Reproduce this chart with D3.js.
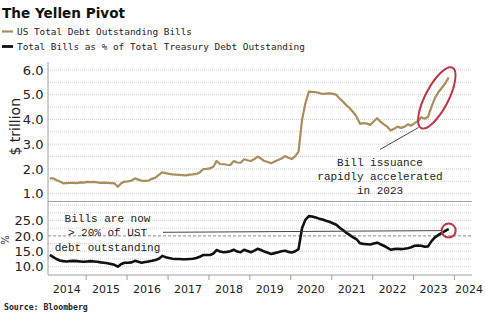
<!DOCTYPE html>
<html>
<head>
<meta charset="utf-8">
<script src="https://cdn.jsdelivr.net/npm/d3@7"></script>
<style>
body { margin: 0; background: #fff; }
svg { display: block; }
</style>
</head>
<body>
<svg id="yellen_chart" width="485" height="323"></svg>
<script>
// monthly observations, Feb 2014 .. Nov 2023
var first_month = "2014-02";
var last_month = "2023-11";

// US Total Debt Outstanding Bills, $ trillion
var bills_outstanding = [
    1.62, 1.62, 1.55, 1.49, 1.42, 1.43, 1.44, 1.44, 1.43, 1.46,
    1.45, 1.48, 1.47, 1.48, 1.46, 1.44, 1.45, 1.44, 1.43, 1.42,
    1.28, 1.42, 1.49, 1.50, 1.53, 1.62, 1.57, 1.53, 1.52, 1.53,
    1.60, 1.65, 1.76, 1.86, 1.83, 1.80, 1.78, 1.77, 1.76, 1.75,
    1.74, 1.77, 1.78, 1.80, 1.86, 1.99, 2.00, 2.02, 2.10, 2.32,
    2.20, 2.19, 2.17, 2.16, 2.32, 2.26, 2.25, 2.39, 2.35, 2.32,
    2.40, 2.50, 2.42, 2.32, 2.28, 2.23, 2.30, 2.36, 2.42, 2.52,
    2.45, 2.40, 2.52, 2.70, 3.98, 4.65, 5.12, 5.11, 5.10, 5.07,
    5.03, 5.04, 5.05, 5.03, 5.00, 4.85, 4.72, 4.58, 4.45, 4.30,
    4.11, 3.82, 3.85, 3.83, 3.78, 3.92, 4.05, 3.91, 3.80, 3.71,
    3.55, 3.62, 3.71, 3.66, 3.70, 3.80, 3.75, 3.85, 3.94, 4.09,
    4.03, 4.11, 4.52, 4.86, 5.10, 5.28, 5.45, 5.70
];

// Total Bills as % of Total Treasury Debt Outstanding
var bills_share = [
    13.8, 13.2, 12.5, 12.0, 11.8, 11.7, 11.8, 11.9, 11.8, 11.7,
    11.6, 11.7, 11.8, 11.7, 11.6, 11.4, 11.3, 11.1, 10.9, 10.6,
    10.0, 10.9, 11.3, 11.3, 11.4, 11.9, 11.6, 11.3, 11.5, 11.7,
    11.9, 12.2, 12.6, 13.5, 13.1, 12.8, 12.6, 12.5, 12.5, 12.4,
    12.4, 12.5, 12.6, 12.8, 13.2, 13.8, 13.8, 13.8, 14.3, 15.4,
    14.9, 14.7, 14.8, 15.0, 15.5, 14.9, 14.7, 15.5, 15.1, 14.7,
    15.2, 15.8, 15.4, 14.9, 14.5, 14.1, 14.4, 14.7, 15.0, 15.2,
    14.8, 14.6, 15.0, 15.7, 22.5, 25.2, 26.4, 26.3, 26.0, 25.6,
    25.3, 24.9, 24.6, 24.1, 23.6, 22.7, 21.9, 21.0, 20.3, 19.5,
    18.9, 17.6, 17.4, 17.3, 17.2, 17.5, 17.8, 17.3, 16.8, 16.2,
    15.5, 15.7, 15.8, 15.7, 15.8, 16.0, 16.3, 16.8, 16.9, 16.8,
    16.5, 16.6, 18.3, 19.5, 20.3, 21.0, 21.6, 22.2
];

var top_ticks = [1, 2, 3, 4, 5, 6];
var top_grid = [1, 1.5, 2, 2.5, 3, 3.5, 4, 4.5, 5, 5.5, 6];
var bottom_ticks = [10, 15, 20, 25];
var bottom_grid = [10, 12.5, 15, 17.5, 22.5, 25, 27.5, 30];
var share_reference = 20;
var year_labels = ["2014", "2015", "2016", "2017", "2018", "2019", "2020", "2021", "2022", "2023", "2024"];

var legend_labels = ["US Total Debt Outstanding Bills", "Total Bills as % of Total Treasury Debt Outstanding"];
var note_top = ["Bill issuance", "rapidly accelerated", "in 2023"];
var note_bottom = ["Bills are now", "> 20% of UST", "debt outstanding"];

var chart_svg
var xScale
var yScaleTop
var yScaleBottom

const TAN = "#a98d5c";
const RED = "#bd3445";
const GRID = "#d4d4d4";
const AXIS = "#a0a0a0";

function build_chart() {
    chart_svg = d3.select("#yellen_chart");

    const plot = {left: 48, right: 472, top: 62, split: 201.5, bottom: 275};

    var parseMonth = d3.timeParse("%Y-%m");
    var months = d3.timeMonth.range(parseMonth(first_month), d3.timeMonth.offset(parseMonth(last_month), 1))
        .map(d => d3.timeDay.offset(d, 14));

    xScale = d3.scaleTime()
        .domain([new Date(2014, 0, 30), new Date(2024, 5, 10)])
        .range([plot.left, plot.right]);
    yScaleTop = d3.scaleLinear()
        .domain([0.685, 6.32])
        .range([plot.split, plot.top]);
    yScaleBottom = d3.scaleLinear()
        .domain([7.3, 31])
        .range([plot.bottom, plot.split + 0.5]);

    // title + legend
    chart_svg.append("text")
        .attr("x", 2).attr("y", 18)
        .attr("textLength", 123).attr("lengthAdjust", "spacingAndGlyphs")
        .style("font", "bold 14px 'DejaVu Sans'")
        .attr("fill", "#111")
        .text("The Yellen Pivot");

    var legendColors = [TAN, "#111"];
    var legend = chart_svg.append("g").attr("id", "legend");
    legend.selectAll("line")
        .data(legend_labels).enter()
        .append("line")
        .attr("x1", 2).attr("x2", 13)
        .attr("y1", (d, i) => 31.5 + i * 15)
        .attr("y2", (d, i) => 31.5 + i * 15)
        .attr("stroke", (d, i) => legendColors[i])
        .attr("stroke-width", (d, i) => i == 0 ? 2.2 : 2.8);
    legend.selectAll("text")
        .data(legend_labels).enter()
        .append("text")
        .attr("x", 17)
        .attr("y", (d, i) => 34.5 + i * 15)
        .style("font", "9.4px 'DejaVu Sans Mono'")
        .attr("fill", "#222")
        .text(d => d);

    // grids
    var grid = chart_svg.append("g").attr("id", "grid");
    grid.selectAll("line.top_grid")
        .data(top_grid).enter()
        .append("line").classed("top_grid", true)
        .attr("x1", plot.left).attr("x2", plot.right)
        .attr("y1", d => yScaleTop(d)).attr("y2", d => yScaleTop(d))
        .attr("stroke", GRID).attr("stroke-dasharray", "1,1");
    grid.selectAll("line.bottom_grid")
        .data(bottom_grid).enter()
        .append("line").classed("bottom_grid", true)
        .attr("x1", plot.left).attr("x2", plot.right)
        .attr("y1", d => yScaleBottom(d)).attr("y2", d => yScaleBottom(d))
        .attr("stroke", GRID).attr("stroke-dasharray", "1,1");
    grid.append("line")
        .attr("x1", plot.left).attr("x2", plot.right)
        .attr("y1", yScaleBottom(share_reference)).attr("y2", yScaleBottom(share_reference))
        .attr("stroke", "#8c8c8c").attr("stroke-dasharray", "3,2");

    // frame lines
    var frame = chart_svg.append("g").attr("id", "frame").attr("stroke", AXIS);
    frame.append("line")
        .attr("x1", plot.left).attr("x2", plot.left)
        .attr("y1", plot.top).attr("y2", plot.bottom);
    frame.append("line")
        .attr("x1", plot.left).attr("x2", plot.right)
        .attr("y1", plot.split).attr("y2", plot.split);
    frame.append("line")
        .attr("x1", plot.left).attr("x2", plot.right)
        .attr("y1", plot.bottom).attr("y2", plot.bottom);

    // y axes
    var topAxis = chart_svg.append("g")
        .attr("transform", "translate(" + (plot.left - 4.5) + ",0)")
        .call(d3.axisLeft(yScaleTop).tickValues(top_ticks).tickSize(0).tickPadding(0).tickFormat(d3.format(".1f")));
    var bottomAxis = chart_svg.append("g")
        .attr("transform", "translate(" + (plot.left - 4.5) + ",0)")
        .call(d3.axisLeft(yScaleBottom).tickValues(bottom_ticks).tickSize(0).tickPadding(0).tickFormat(d3.format(".1f")));
    [topAxis, bottomAxis].forEach(function(axis) {
        axis.select(".domain").remove();
        axis.selectAll("text")
            .style("font", "13px 'DejaVu Sans'")
            .attr("fill", "#222");
    });

    chart_svg.append("text")
        .attr("transform", "translate(20," + ((plot.top + plot.split) / 2 - 5) + ") rotate(-90)")
        .attr("text-anchor", "middle")
        .style("font", "14px 'DejaVu Sans'")
        .attr("fill", "#222")
        .text("$ trillion");
    chart_svg.append("text")
        .attr("transform", "translate(9,240) rotate(-90)")
        .attr("text-anchor", "middle")
        .style("font", "10px 'DejaVu Sans'")
        .attr("fill", "#222")
        .text("%");

    // x axis: ticks at year boundaries, labels centred in each year
    var years = year_labels.map(y => new Date(+y, 0, 1));
    var xAxis = chart_svg.append("g")
        .attr("transform", "translate(0," + plot.bottom + ")")
        .call(d3.axisBottom(xScale).tickValues(years.filter(d => xScale(d) >= plot.left)).tickSize(5).tickFormat(""));
    xAxis.select(".domain").remove();
    xAxis.selectAll("line").attr("stroke", AXIS);

    chart_svg.append("g").attr("id", "year_labels")
        .selectAll("text")
        .data(years).enter()
        .append("text")
        .each(function(d, i) {
            var x0 = Math.max(xScale(d), plot.left);
            var x1 = Math.min(xScale(new Date(d.getFullYear() + 1, 0, 1)), plot.right);
            var label = d3.select(this);
            if (x1 - x0 < 30) {
                label.attr("x", x0 + 1).attr("text-anchor", "start");
            } else {
                label.attr("x", (x0 + x1) / 2).attr("text-anchor", "middle");
            }
        })
        .attr("y", 293)
        .style("font", "11px 'DejaVu Sans'")
        .attr("fill", "#222")
        .text((d, i) => year_labels[i]);

    // series
    var lineTop = d3.line()
        .x((d, i) => xScale(months[i]))
        .y(d => yScaleTop(d));
    var lineBottom = d3.line()
        .x((d, i) => xScale(months[i]))
        .y(d => yScaleBottom(d));

    chart_svg.append("path")
        .attr("d", lineTop(bills_outstanding))
        .attr("fill", "none")
        .attr("stroke", TAN)
        .attr("stroke-width", 2.2)
        .attr("stroke-linejoin", "round");
    chart_svg.append("path")
        .attr("d", lineBottom(bills_share))
        .attr("fill", "none")
        .attr("stroke", "#111")
        .attr("stroke-width", 2.6)
        .attr("stroke-linejoin", "round");

    // annotations
    var noteFont = "11px 'Liberation Mono'";

    var ellipseX = xScale(new Date(2023, 7, 1));
    var ellipseY = yScaleTop(4.87);
    chart_svg.append("ellipse")
        .attr("cx", 0).attr("cy", 0)
        .attr("rx", 34).attr("ry", 11.5)
        .attr("transform", "translate(" + ellipseX + "," + ellipseY + ") rotate(-62.5)")
        .attr("fill", "none")
        .attr("stroke", RED)
        .attr("stroke-width", 2);
    chart_svg.append("line")
        .attr("x1", 380).attr("y1", 149.5)
        .attr("x2", 418.5).attr("y2", 127.5)
        .attr("stroke", "#333").attr("stroke-width", 0.9);
    chart_svg.append("g")
        .selectAll("text")
        .data(note_top).enter()
        .append("text")
        .attr("x", 380)
        .attr("y", (d, i) => 165.5 + i * 14.2)
        .attr("text-anchor", "middle")
        .style("font", noteFont)
        .attr("fill", "#222")
        .text(d => d);

    var lastX = xScale(months[months.length - 1]);
    var lastY = yScaleBottom(bills_share[bills_share.length - 1]) + 1.5;
    chart_svg.append("line")
        .attr("x1", 163).attr("y1", 232.3)
        .attr("x2", lastX - 7.5).attr("y2", lastY)
        .attr("stroke", "#333").attr("stroke-width", 0.9);
    chart_svg.append("circle")
        .attr("cx", lastX).attr("cy", lastY)
        .attr("r", 7)
        .attr("fill", "none")
        .attr("stroke", RED)
        .attr("stroke-width", 2);
    chart_svg.append("g")
        .selectAll("text")
        .data(note_bottom).enter()
        .append("text")
        .attr("x", 107.5)
        .attr("y", (d, i) => 221.5 + i * 14.5)
        .attr("text-anchor", "middle")
        .style("font", noteFont)
        .attr("fill", "#222")
        .text(d => d);

    chart_svg.append("text")
        .attr("x", 4).attr("y", 310)
        .style("font", "bold 8.2px 'DejaVu Sans Mono'")
        .attr("fill", "#222")
        .text("Source: Bloomberg");
}

build_chart();
</script>
</body>
</html>
